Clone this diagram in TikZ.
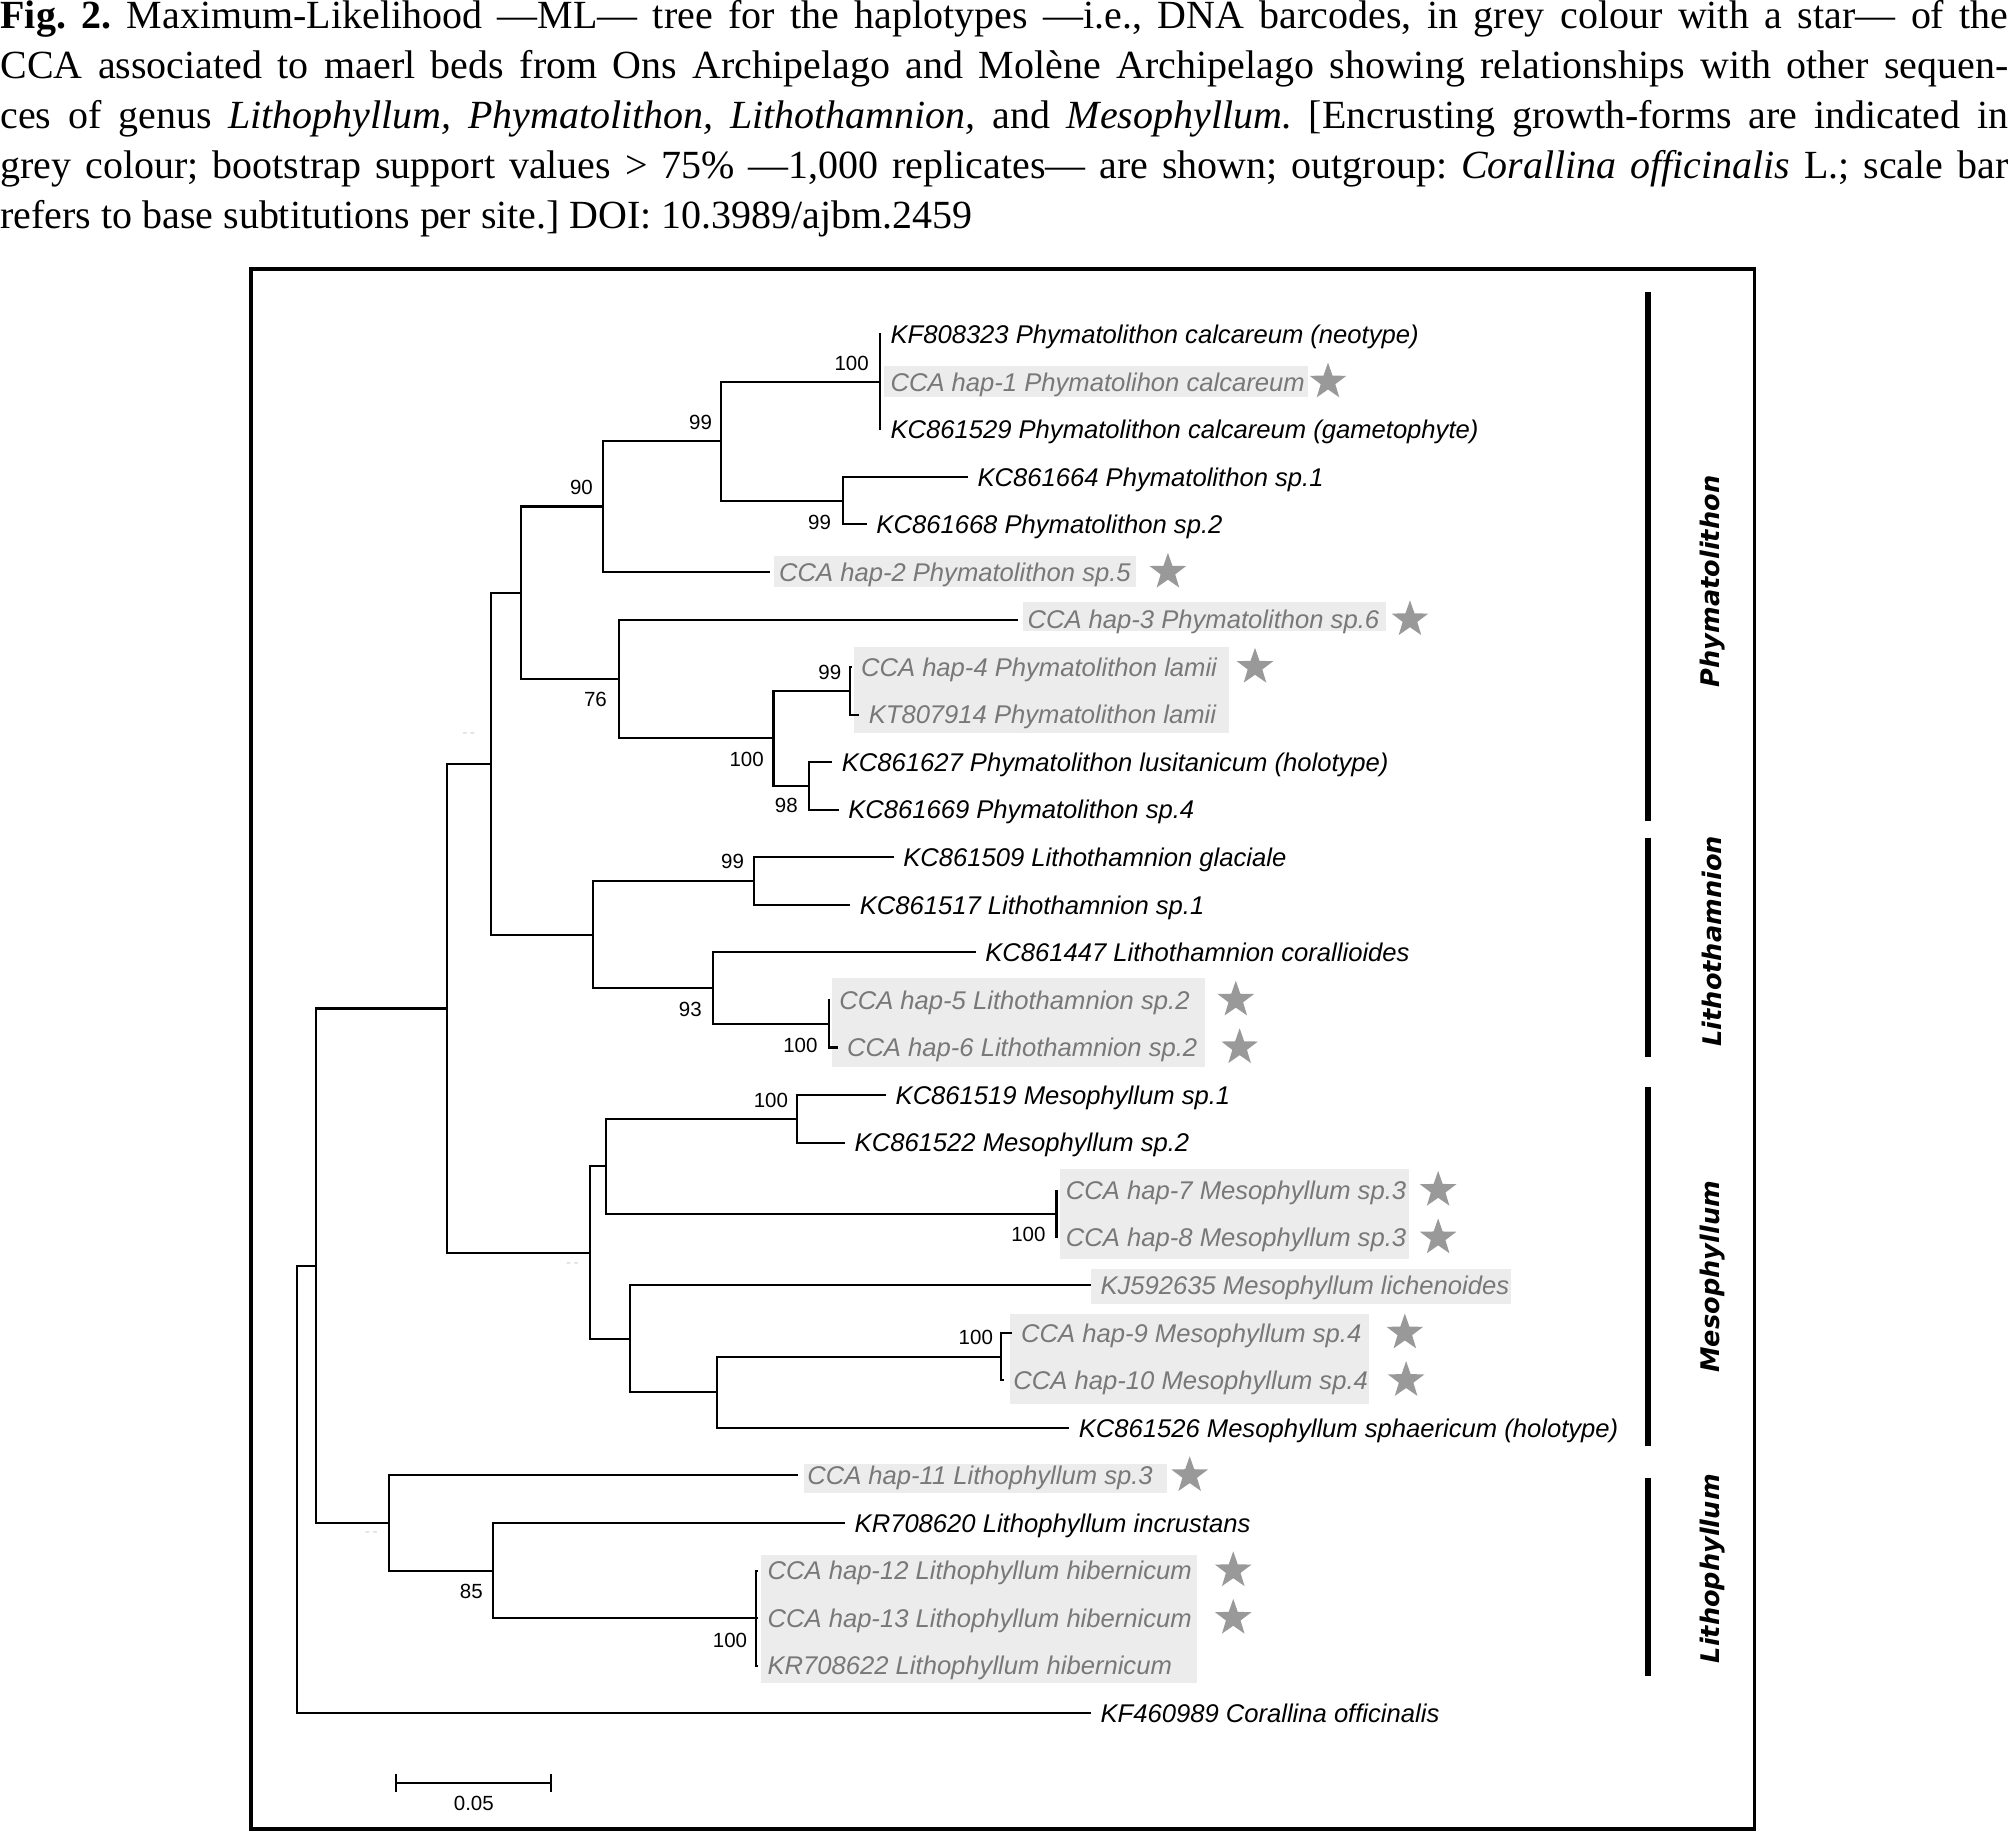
\documentclass[tikz,border=0pt]{standalone}
\usepackage{fontspec}
\setmainfont{Liberation Serif}
\newfontfamily\treefont{Liberation Sans}
\newfontfamily\cladefont{DejaVu Sans}
\usetikzlibrary{calc}
\usetikzlibrary{shapes}
\usepackage{xcolor}
\definecolor{hapgrey}{gray}{0.47}
\definecolor{boxgrey}{gray}{0.925}
\definecolor{stargrey}{gray}{0.6}
\newcommand{\rowy}[1]{261+37.13*(#1-1)}

\tikzset{
  caption/.style={anchor=north west, inner sep=0pt, text width=784pt, align=justify,
    font=\fontsize{15.6}{19.5}\selectfont\frenchspacing},
  branch/.style={line width=0.8pt},
  leaf/.style={anchor=west, inner xsep=3.5pt, inner ysep=0pt, text height=7.2pt, text depth=0pt,
    font=\treefont\itshape\fontsize{10}{12}\selectfont},
  boot/.style={inner sep=0pt, font=\treefont\fontsize{8}{9.6}\selectfont},
  faint/.style={inner sep=0pt, text=gray!35, font=\treefont\fontsize{6}{7}\selectfont},
  hapstar/.style={star, star points=5, star point ratio=2.5, fill=stargrey, draw=none,
    inner sep=0pt, minimum size=15pt},
  cladebar/.style={line width=2.5pt},
  cladename/.style={rotate=90, inner sep=0pt, font=\cladefont\bfseries\itshape\fontsize{10}{12}\selectfont}
}

\begin{document}
\begin{tikzpicture}[x=0.5pt,y=-0.5pt]
\useasboundingbox (0,0) rectangle (1568,1430);

\node[caption] (caption) at (0,0) {\tolerance=10000\relax\hyphenpenalty=10000\relax
\textbf{Fig. 2.} Maximum-Likelihood —ML— tree for the haplotypes —i.e., DNA barcodes, in grey colour with a star— of the\linebreak
CCA associated to maerl beds from Ons Archipelago and Molène Archipelago showing relationships with other sequen-\linebreak
ces of genus \textit{Lithophyllum, Phymatolithon, Lithothamnion,} and \textit{Mesophyllum.} [Encrusting growth-forms are indicated in\linebreak
grey colour; bootstrap support values \textgreater{} 75\% —1,000 replicates— are shown; outgroup: \textit{Corallina officinalis} L.; scale bar\linebreak
refers to base subtitutions per site.] DOI: 10.3989/ajbm.2459};

\draw[line width=1.5pt] (196,210) rectangle (1370,1428);

\foreach \xa/\ya/\xb/\yb in {690/286/1021/310, 604/434/887/458, 799/470/1082/493, 667/505/960/572,
  650/764/941/833, 828/913/1100/983, 852/991/1180/1018, 789/1026/1069/1096, 628/1143/911/1166,
  594/1214/935/1314} {
  \fill[boxgrey] (\xa,\ya) rectangle (\xb,\yb);
}

\foreach \nm/\r/\x/\col/\txt in {
  neo/1/688/black/KF808323 Phymatolithon calcareum (neotype),
  hapa/2/688/hapgrey/CCA hap-1 Phymatolihon calcareum,
  game/3/688/black/KC861529 Phymatolithon calcareum (gametophyte),
  phone/4/756/black/KC861664 Phymatolithon sp.1,
  phtwo/5/677/black/KC861668 Phymatolithon sp.2,
  hapb/6/601/hapgrey/CCA hap-2 Phymatolithon sp.5,
  hapc/7/795/hapgrey/CCA hap-3 Phymatolithon sp.6,
  hapd/8/665/hapgrey/CCA hap-4 Phymatolithon lamii,
  lamii/9/671/hapgrey/KT807914 Phymatolithon lamii,
  lusi/10/650/black/KC861627 Phymatolithon lusitanicum (holotype),
  phfour/11/655/black/KC861669 Phymatolithon sp.4,
  glac/12/698/black/KC861509 Lithothamnion glaciale,
  ltone/13/664/black/KC861517 Lithothamnion sp.1,
  cora/14/762/black/KC861447 Lithothamnion corallioides,
  hape/15/648/hapgrey/CCA hap-5 Lithothamnion sp.2,
  hapf/16/654/hapgrey/CCA hap-6 Lithothamnion sp.2,
  meone/17/692/black/KC861519 Mesophyllum sp.1,
  metwo/18/660/black/KC861522 Mesophyllum sp.2,
  hapg/19/825/hapgrey/CCA hap-7 Mesophyllum sp.3,
  haph/20/825/hapgrey/CCA hap-8 Mesophyllum sp.3,
  lich/21/852/hapgrey/KJ592635 Mesophyllum lichenoides,
  hapi/22/790/hapgrey/CCA hap-9 Mesophyllum sp.4,
  hapj/23/784/hapgrey/CCA hap-10 Mesophyllum sp.4,
  spha/24/835/black/KC861526 Mesophyllum sphaericum (holotype),
  hapk/25/623/hapgrey/CCA hap-11 Lithophyllum sp.3,
  incr/26/660/black/KR708620 Lithophyllum incrustans,
  hapl/27/592/hapgrey/CCA hap-12 Lithophyllum hibernicum,
  hapm/28/592/hapgrey/CCA hap-13 Lithophyllum hibernicum,
  hibe/29/592/hapgrey/KR708622 Lithophyllum hibernicum,
  offi/30/852/black/KF460989 Corallina officinalis} {
  \node[leaf, text=\col] (\nm) at (\x,{\rowy{\r}}) {\txt};
}

\foreach \r/\sx [count=\k] in {2/1037, 6/912, 7/1101, 8/980, 15/965, 16/968, 19/1123, 20/1123,
  22/1097, 23/1098, 25/929, 27/963, 28/963} {
  \node[hapstar] (star\k) at (\sx,{\rowy{\r}}) {};
}

\coordinate (calc) at (687,298);
\coordinate (C) at (658,391);
\coordinate (B) at (563,344.5);
\coordinate (D) at (471,395.5);
\coordinate (H) at (664,539.5);
\coordinate (I) at (632,613.7);
\coordinate (G) at (604,576.6);
\coordinate (E) at (483,530.2);
\coordinate (F) at (407,463);
\coordinate (L) at (589,688);
\coordinate (N) at (647,799.4);
\coordinate (M) at (557,771.5);
\coordinate (K) at (463,729.8);
\coordinate (J) at (383.5,596.9);
\coordinate (P) at (622,873.7);
\coordinate (R) at (825,948);
\coordinate (Q) at (473,910.8);
\coordinate (V) at (782,1059.3);
\coordinate (U) at (560,1087.2);
\coordinate (T) at (492,1045.4);
\coordinate (S) at (461,978.1);
\coordinate (O) at (349.4,787.5);
\coordinate (Z) at (590.5,1263.5);
\coordinate (Y) at (385,1226.4);
\coordinate (X) at (304,1189.3);
\coordinate (W) at (247,988.4);
\coordinate (root) at (232,1163);

\foreach \p/\c in {B/calc, B/C, D/B, F/D, F/E, E/G, G/H, G/I, J/F, J/K, K/L, K/M, M/N, O/J, O/S,
  S/Q, S/T, Q/P, Q/R, T/U, U/V, W/O, W/X, X/Y, Y/Z, root/W} {
  \draw[branch] (\p) |- (\c);
}
\foreach \p/\c in {calc/neo, calc/hapa, calc/game, C/phone, C/phtwo, D/hapb, E/hapc, H/hapd,
  H/lamii, I/lusi, I/phfour, L/glac, L/ltone, M/cora, N/hape, N/hapf, P/meone, P/metwo, R/hapg,
  R/haph, T/lich, V/hapi, V/hapj, U/spha, X/hapk, Y/incr, Z/hapl, Z/hapm, Z/hibe, root/offi} {
  \draw[branch] (\p) |- (\c.west);
}

\foreach \bx/\by/\bv [count=\k] in {665/284/100, 547/330/99, 454/381/90, 640/408/99, 648/525/99,
  465/546/76, 583/593/100, 614/629/98, 572/673/99, 539/788/93, 625/816/100, 602/859/100,
  803/964/100, 762/1044/100, 368/1243/85, 570/1281/100} {
  \node[boot] (boot\k) at (\bx,\by) {\bv};
}
\node[faint] (dashj) at (366,574) {-\,-};
\node[faint] (dashs) at (447,988) {-\,-};
\node[faint] (dashx) at (290,1198) {-\,-};

\draw[cladebar] (1287,228) -- (1287,641);
\draw[cladebar] (1287,654) -- (1287,825);
\draw[cladebar] (1287,849) -- (1287,1129);
\draw[cladebar] (1287,1154) -- (1287,1309);
\node[cladename] (phyma) at (1337,454) {Phymatolithon};
\node[cladename] (litham) at (1337,735) {Lithothamnion};
\node[cladename] (meso) at (1337,997) {Mesophyllum};
\node[cladename] (litphy) at (1337,1225) {Lithophyllum};

\coordinate (sbl) at (309,1392);
\coordinate (sbr) at (430,1392);
\draw[branch] (sbl) -- (sbr);
\draw[branch] ($(sbl)+(0,-7)$) -- ($(sbl)+(0,7)$);
\draw[branch] ($(sbr)+(0,-7)$) -- ($(sbr)+(0,7)$);
\node[boot] (sbtext) at (370,1408) {0.05};
\end{tikzpicture}
\end{document}
